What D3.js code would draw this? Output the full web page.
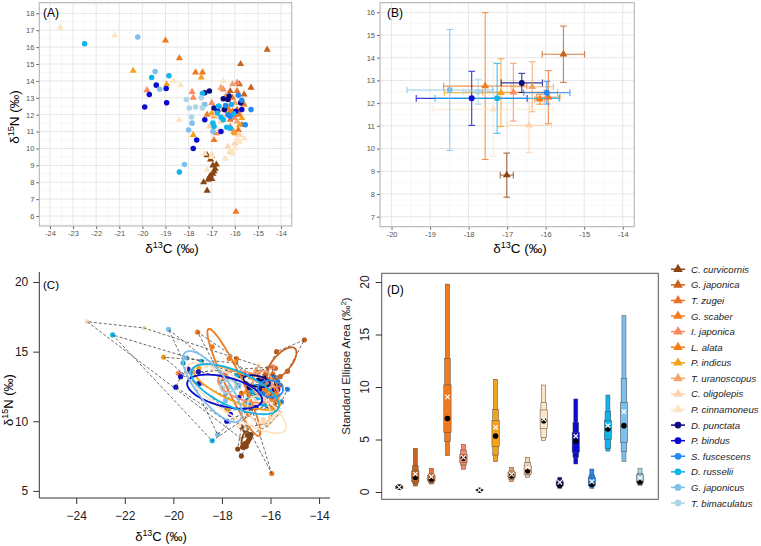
<!DOCTYPE html>
<html>
<head>
<meta charset="utf-8">
<script src="https://cdn.jsdelivr.net/npm/d3@7"></script>
<style>
  body { margin: 0; background: #fff; }
  svg { display: block; font-family: "Liberation Sans", Arial, sans-serif; }
</style>
</head>
<body>
<svg id="fig" width="761" height="546"></svg>
<script>
// species in legend order (first 10 drawn as triangles, rest as circles)
const species = ["C. curvicornis", "G. japonica", "T. zugei", "G. scaber", "I. japonica",
                 "L. alata", "P. indicus", "T. uranoscopus", "C. oligolepis", "P. cinnamoneus",
                 "D. punctata", "P. bindus", "S. fuscescens", "D. russelii", "G. japonicus",
                 "T. bimaculatus"];
const speciesColors = ["#8b4513", "#c8621c", "#e8732a", "#f07a20", "#fa8860",
                       "#f57f17", "#f5a21d", "#f2a468", "#fcd3ae", "#fde5c4",
                       "#0a0a80", "#0a0ad0", "#2389f5", "#0fb4ee", "#7fbfec", "#a9d6e8"];

// raw isotope values per species: [d13C, d15N]
const cCurvicornis = [[-17.2,9.6],[-17.0,9.55],[-17.05,9.35],[-16.95,9.0],[-16.8,9.05],[-16.9,8.65],[-17.05,8.4],
                      [-17.15,8.15],[-17.0,8.2],[-17.35,8.0],[-17.2,7.5],[-16.85,8.8],[-17.1,8.3],[-16.95,8.5]];
const gJaponica = [[-14.6,15.85],[-15.75,15.0],[-15.8,13.8],[-16.2,13.4],[-15.6,13.2],[-15.3,13.6]];
const tZugei = [[-15.9,13.4],[-16.1,13.0],[-15.6,12.6],[-15.8,12.0],[-16.2,11.7],[-15.7,11.4],[-16.3,12.9],[-15.85,11.1],[-15.9,12.3]];
const gScaber = [[-19.0,16.4],[-18.4,15.35],[-17.7,14.5],[-17.4,14.5],[-17.2,12.0],[-16.9,10.5],[-15.95,6.25]];
const iJaponica = [[-19.8,13.45],[-17.85,13.35],[-17.8,13.0],[-17.0,12.7],[-16.8,10.9],[-16.5,13.5],[-16.3,12.2],
                   [-16.2,11.3],[-16.0,11.8],[-15.9,13.9],[-16.05,11.0]];
const lAlata = [[-16.3,12.4],[-16.0,12.0],[-16.2,12.1],[-16.1,12.2]];
const pIndicus = [[-20.4,14.6],[-18.95,13.8],[-17.45,14.2],[-17.8,10.8],[-17.0,12.1],[-15.8,11.4],[-15.7,11.8],[-16.0,10.9]];
const tUranoscopus = [[-16.6,13.6],[-16.1,13.8],[-16.5,12.3],[-16.0,12.7],[-16.9,11.9],[-15.9,11.6],[-16.4,13.1]];
const cOligolepis = [[-17.0,9.6],[-16.6,11.6],[-16.3,10.1],[-16.0,10.3],[-16.8,12.0],[-15.8,10.8],[-16.5,11.9],[-17.1,11.3],[-16.2,9.8]];
const pCinnamoneus = [[-23.55,17.15],[-21.2,16.7],[-18.65,14.0],[-18.35,13.75],[-18.4,11.7],[-17.4,12.6],[-17.3,9.7],
                      [-17.0,9.5],[-16.5,14.0],[-16.4,9.4],[-17.2,8.75],[-16.2,9.9],[-16.0,10.0],[-16.6,12.4],
                      [-16.7,11.1],[-15.9,10.5],[-15.8,10.4],[-15.6,10.6],[-16.1,9.7]];
const dPunctata = [[-17.3,13.3],[-17.1,13.4],[-16.5,12.95],[-16.25,13.1],[-16.3,12.9],[-16.45,12.3],[-15.75,12.7],[-16.9,12.4]];
const pBindus = [[-19.9,12.45],[-19.7,13.2],[-19.4,13.75],[-18.97,13.55],[-18.95,12.7],[-17.8,10.0],[-17.65,10.5],
                 [-17.3,11.7],[-16.75,12.2],[-16.6,11.0],[-15.95,12.2],[-15.7,12.3]];
const sFuscescens = [[-15.3,12.3],[-15.7,12.85],[-15.85,13.15],[-16.4,12.55],[-16.3,12.0],[-16.2,11.9],[-15.55,11.4],[-16.7,12.5]];
const dRusselii = [[-22.5,16.2],[-19.6,14.2],[-18.85,14.3],[-18.4,8.6],[-17.4,13.25],[-16.75,12.1],[-16.7,12.5],[-16.5,11.7],
                   [-16.35,11.25],[-16.2,11.2],[-16.15,12.6],[-16.9,11.3],[-16.95,11.5],[-16.05,12.05],[-16.6,11.85]];
const gJaponicus = [[-20.2,16.6],[-19.45,14.55],[-19.25,13.5],[-18.18,9.05],[-18.0,11.1],[-17.85,11.5],[-17.3,12.6],[-16.95,11.0]];
const tBimaculatus = [[-17.97,12.4],[-17.87,11.86],[-17.4,12.4],[-17.45,13.0],[-18.1,12.9],[-17.7,12.45]];

const isotopeData = [cCurvicornis, gJaponica, tZugei, gScaber, iJaponica, lAlata, pIndicus, tUranoscopus,
                     cOligolepis, pCinnamoneus, dPunctata, pBindus, sFuscescens, dRusselii, gJaponicus, tBimaculatus];

// panel B: mean +- sd per species
const meanC = [-17.01,-15.54,-15.93,-17.57,-16.84,-16.15,-17.16,-16.35,-16.43,-17.36,-16.62,-17.92,-15.97,-17.26,-18.49,-17.75];
const meanN = [8.83,14.15,12.26,12.75,12.48,12.17,12.46,12.72,11.02,11.73,12.89,12.21,12.46,12.21,12.58,12.5];
const sdC = [0.17,0.55,0.3,1.08,0.8,0.13,1.47,0.55,0.58,1.56,0.535,1.44,0.6,1.61,1.11,0.4];
const sdN = [0.97,1.24,1.17,3.23,1.27,0.22,1.49,1.1,1.2,2.07,0.42,1.19,0.5,1.54,2.66,0.55];

// panel D: posterior SEA summaries
const sea95Lo = [0.25,0.57,0.76,3.46,2.16,0.08,2.89,0.98,1.4,4.89,0.35,2.67,0.35,3.9,2.89,0.6];
const sea75Lo = [0.3,0.83,0.92,4.8,2.57,0.1,3.52,1.21,1.62,5.21,0.51,3.3,0.51,4.16,3.84,0.73];
const sea50Lo = [0.35,0.98,1.05,5.68,2.83,0.12,4.32,1.37,1.71,6.06,0.6,3.78,0.6,5.02,4.73,0.89];
const sea50Hi = [0.55,2.0,1.56,10.2,3.59,0.22,6.79,1.84,2.5,7.81,0.98,5.65,1.4,6.79,8.54,1.62];
const sea75Hi = [0.6,2.5,1.71,12.7,4.0,0.25,7.87,2.0,2.79,8.5,1.14,6.6,1.62,7.65,10.83,1.78];
const sea95Hi = [0.7,4.16,2.25,19.8,4.54,0.3,10.73,2.35,3.3,10.19,1.4,8.86,2.19,9.24,16.8,2.25];
const seaMode = [0.45,1.4,1.24,7.0,3.21,0.17,5.33,1.52,2.03,6.79,0.67,4.86,0.73,6.0,6.32,0.98];
const seaMean = [0.45,1.71,1.46,9.05,3.3,0.19,6.16,1.68,2.35,6.95,0.92,5.33,0.98,6.32,7.65,1.3];

const xTicksAB = d3.range(-24, -13, 1);
const yTicksA = d3.range(6, 19, 1);
const yTicksB = d3.range(7, 17, 1);

const svg = d3.select('#fig');

function marker(i, size) {
    return d3.symbol(i < 10 ? d3.symbolTriangle : d3.symbolCircle, size)();
}

function isoTitle(t, mass, el) {
    t.append('tspan').text('δ');
    t.append('tspan').attr('dy', -5).attr('font-size', '0.68em').text(mass);
    t.append('tspan').attr('dy', 5).text(el + ' (‰)');
}

// ggplot-like panel: grid, border, ticks
function ggPanel(g, x, y, xMajor, yMajor) {
    const [xl, xr] = x.range(), [yb, yt] = y.range();
    const inX = v => v > Math.min(...x.domain()) && v < Math.max(...x.domain());
    const inY = v => v > Math.min(...y.domain()) && v < Math.max(...y.domain());
    const xs = xMajor.filter(inX), ys = yMajor.filter(inY);
    const xMinor = xMajor.map(v => v - 0.5).concat([d3.max(xMajor) + 0.5]).filter(inX);
    const yMinor = yMajor.map(v => v - 0.5).concat([d3.max(yMajor) + 0.5]).filter(inY);

    g.selectAll('.vmin').data(xMinor).join('line')
        .attr('x1', x).attr('x2', x).attr('y1', yb).attr('y2', yt)
        .attr('stroke', '#f3f3f3').attr('stroke-width', 0.6);
    g.selectAll('.hmin').data(yMinor).join('line')
        .attr('y1', y).attr('y2', y).attr('x1', xl).attr('x2', xr)
        .attr('stroke', '#f3f3f3').attr('stroke-width', 0.6);
    g.selectAll('.vmaj').data(xs).join('line')
        .attr('x1', x).attr('x2', x).attr('y1', yb).attr('y2', yt)
        .attr('stroke', '#e6e6e6').attr('stroke-width', 1);
    g.selectAll('.hmaj').data(ys).join('line')
        .attr('y1', y).attr('y2', y).attr('x1', xl).attr('x2', xr)
        .attr('stroke', '#e6e6e6').attr('stroke-width', 1);

    let xa = g.append('g').attr('transform', `translate(0,${yb})`)
        .call(d3.axisBottom(x).tickValues(xs).tickSize(3).tickPadding(2).tickFormat(d3.format('d')));
    let ya = g.append('g').attr('transform', `translate(${xl},0)`)
        .call(d3.axisLeft(y).tickValues(ys).tickSize(3).tickPadding(2).tickFormat(d3.format('d')));
    [xa, ya].forEach(a => {
        a.select('.domain').remove();
        a.selectAll('line').attr('stroke', '#666');
        a.selectAll('text').attr('font-size', 7.5).attr('fill', '#555')
            .attr('font-family', '"Liberation Sans", Arial, sans-serif')
            .text(function() { return this.textContent.replace('−', '-'); });
    });
    g.append('rect').attr('x', xl).attr('y', yt).attr('width', xr - xl).attr('height', yb - yt)
        .attr('fill', 'none').attr('stroke', '#b5b5b5').attr('stroke-width', 1.1);
}

// ---------- panel A ----------
const xA = d3.scaleLinear().domain([-24.46, -13.54]).range([39.3, 291.7]);
const yA = d3.scaleLinear().domain([5.41, 18.63]).range([226, 2.7]);
const gA = svg.append('g');
ggPanel(gA, xA, yA, xTicksAB, yTicksA);

isotopeData.forEach((pts, i) => {
    gA.append('g').selectAll('path').data(pts).join('path')
        .attr('d', marker(i, i < 10 ? 22 : 24))
        .attr('transform', d => `translate(${xA(d[0])},${yA(d[1])})`)
        .attr('fill', speciesColors[i]);
});
gA.append('text').attr('x', 43).attr('y', 17).attr('font-size', 12).text('(A)');
isoTitle(gA.append('text').attr('x', 172).attr('y', 253).attr('text-anchor', 'middle').attr('font-size', 13.5), '13', 'C');
isoTitle(gA.append('text').attr('transform', 'translate(19,117) rotate(-90)').attr('text-anchor', 'middle').attr('font-size', 13.5), '15', 'N');

// ---------- panel B ----------
const xB = d3.scaleLinear().domain([-20.3, -13.7]).range([380, 634.3]);
const yB = d3.scaleLinear().domain([6.56, 16.42]).range([226.7, 2.7]);
const gB = svg.append('g');
ggPanel(gB, xB, yB, d3.range(-20, -13, 1), yTicksB);

const cap = 3.3;
species.forEach((s, i) => {
    const c = speciesColors[i];
    const cx = xB(meanC[i]), cy = yB(meanN[i]);
    const bar = gB.append('g').attr('stroke', c).attr('stroke-width', 1.1).attr('opacity', 0.8);
    const xl = xB(meanC[i] - sdC[i]), xr = xB(meanC[i] + sdC[i]);
    const yt = yB(meanN[i] + sdN[i]), yb = yB(meanN[i] - sdN[i]);
    bar.append('line').attr('x1', xl).attr('x2', xr).attr('y1', cy).attr('y2', cy);
    bar.append('line').attr('x1', xl).attr('x2', xl).attr('y1', cy - cap).attr('y2', cy + cap);
    bar.append('line').attr('x1', xr).attr('x2', xr).attr('y1', cy - cap).attr('y2', cy + cap);
    bar.append('line').attr('x1', cx).attr('x2', cx).attr('y1', yt).attr('y2', yb);
    bar.append('line').attr('x1', cx - cap).attr('x2', cx + cap).attr('y1', yt).attr('y2', yt);
    bar.append('line').attr('x1', cx - cap).attr('x2', cx + cap).attr('y1', yb).attr('y2', yb);
});
species.forEach((s, i) => {
    gB.append('path').attr('d', marker(i, i < 10 ? 26 : 28))
        .attr('transform', `translate(${xB(meanC[i])},${yB(meanN[i])})`)
        .attr('fill', speciesColors[i]);
});
gB.append('text').attr('x', 387).attr('y', 17).attr('font-size', 12).text('(B)');
isoTitle(gB.append('text').attr('x', 520).attr('y', 253).attr('text-anchor', 'middle').attr('font-size', 13.5), '13', 'C');

// ---------- panel C ----------
const xC = d3.scaleLinear().domain([-25.52, -13.55]).range([39.3, 330]);
const yC = d3.scaleLinear().domain([4.49, 20.72]).range([498, 272]);
const gC = svg.append('g');

gC.append('path').attr('d', `M39.3,272V498H330`).attr('fill', 'none').attr('stroke', '#333').attr('stroke-width', 1);
const cxAxis = gC.append('g').attr('transform', 'translate(0,498)')
    .call(d3.axisBottom(xC).tickValues([-24, -22, -20, -18, -16, -14]).tickSize(6).tickPadding(7)
        .tickFormat(d => d < 0 ? '\u2212' + Math.abs(d) : d));
const cyAxis = gC.append('g').attr('transform', 'translate(39.3,0)')
    .call(d3.axisLeft(yC).tickValues([5, 10, 15, 20]).tickSize(6).tickPadding(5));
[cxAxis, cyAxis].forEach(a => {
    a.select('.domain').remove();
    a.selectAll('line').attr('stroke', '#333');
    a.selectAll('text').attr('font-size', 12).attr('fill', '#222')
        .attr('font-family', '"Liberation Sans", Arial, sans-serif');
});

// points
isotopeData.forEach((pts, i) => {
    gC.append('g').selectAll('circle').data(pts).join('circle')
        .attr('cx', d => xC(d[0])).attr('cy', d => yC(d[1])).attr('r', 2.6)
        .attr('fill', speciesColors[i]);
});
// convex hulls
isotopeData.forEach(pts => {
    const hull = d3.polygonHull(pts.map(d => [xC(d[0]), yC(d[1])]));
    if (!hull) return;
    gC.append('path').attr('d', 'M' + hull.join('L') + 'Z')
        .attr('fill', 'none').attr('stroke', '#444').attr('stroke-width', 0.8)
        .attr('stroke-dasharray', '3,2');
});
// small-sample corrected standard ellipses
function stdEllipse(pts) {
    const n = pts.length;
    const mx = d3.mean(pts, d => d[0]), my = d3.mean(pts, d => d[1]);
    let sxx = 0, syy = 0, sxy = 0;
    pts.forEach(([a, b]) => { sxx += (a - mx) ** 2; syy += (b - my) ** 2; sxy += (a - mx) * (b - my); });
    sxx /= n - 1; syy /= n - 1; sxy /= n - 1;
    const tr = (sxx + syy) / 2, dd = Math.sqrt(((sxx - syy) / 2) ** 2 + sxy ** 2);
    const l1 = tr + dd, l2 = Math.max(tr - dd, 0);
    const th = 0.5 * Math.atan2(2 * sxy, sxx - syy);
    const k = Math.sqrt((n - 1) / (n - 2));
    return d3.range(0, 101).map(j => {
        const t = j / 100 * 2 * Math.PI;
        const u = Math.sqrt(l1) * k * Math.cos(t), v = Math.sqrt(l2) * k * Math.sin(t);
        return [mx + u * Math.cos(th) - v * Math.sin(th), my + u * Math.sin(th) + v * Math.cos(th)];
    });
}
const ellLine = d3.line().x(d => xC(d[0])).y(d => yC(d[1]));
isotopeData.forEach((pts, i) => {
    gC.append('path').attr('d', ellLine(stdEllipse(pts)))
        .attr('fill', 'none').attr('stroke', speciesColors[i]).attr('stroke-width', 1.8);
});
gC.append('text').attr('x', 43).attr('y', 289).attr('font-size', 11.5).text('(C)');
isoTitle(gC.append('text').attr('x', 161).attr('y', 541).attr('text-anchor', 'middle').attr('font-size', 13), '13', 'C');
isoTitle(gC.append('text').attr('transform', 'translate(13,400) rotate(-90)').attr('text-anchor', 'middle').attr('font-size', 13), '15', 'N');

// ---------- panel D ----------
const xD = d3.scalePoint().domain(species).range([399.3, 640]);
const yD = d3.scaleLinear().domain([0, 20]).range([492, 282]);
const gD = svg.append('g');
gD.append('rect').attr('x', 381.7).attr('y', 273.3).attr('width', 276.6).attr('height', 226)
    .attr('fill', 'none').attr('stroke', '#555').attr('stroke-width', 1);
const dAxis = gD.append('g').attr('transform', 'translate(381.7,0)')
    .call(d3.axisLeft(yD).tickValues([0, 5, 10, 15, 20]).tickSize(6).tickFormat(() => ''));
dAxis.select('.domain').remove();
dAxis.selectAll('line').attr('stroke', '#333');
gD.selectAll('.dlab').data([0, 5, 10, 15, 20]).join('text')
    .attr('transform', d => `translate(369,${yD(d)}) rotate(-90)`)
    .attr('text-anchor', 'middle').attr('font-size', 12).attr('fill', '#222').text(d => d);
gD.append('text').attr('transform', 'translate(350,366) rotate(-90)').attr('text-anchor', 'middle')
    .attr('font-size', 11.5).attr('fill', '#222')
    .call(t => {
        t.append('tspan').text('Standard Ellipse Area (‰');
        t.append('tspan').attr('dy', -4).attr('font-size', '0.7em').text('2');
        t.append('tspan').attr('dy', 4).text(')');
    });

const bands = [[sea95Lo, sea95Hi, 4], [sea75Lo, sea75Hi, 5.7], [sea50Lo, sea50Hi, 7.3]];
species.forEach((s, i) => {
    const cx = xD(s);
    bands.forEach(([lo, hi, w]) => {
        gD.append('rect').attr('x', cx - w / 2).attr('width', w)
            .attr('y', yD(hi[i])).attr('height', Math.max(yD(lo[i]) - yD(hi[i]), 0.5))
            .attr('fill', speciesColors[i]).attr('stroke', '#4a4a4a').attr('stroke-width', 0.5);
    });
    gD.append('circle').attr('cx', cx).attr('cy', yD(seaMode[i])).attr('r', 2.8).attr('fill', '#000');
    const my = yD(seaMean[i]), h = 2.2;
    gD.append('path').attr('d', `M${cx - h},${my - h}L${cx + h},${my + h}M${cx - h},${my + h}L${cx + h},${my - h}`)
        .attr('stroke', '#fff').attr('stroke-width', 1.2);
});
gD.append('text').attr('x', 387).attr('y', 294).attr('font-size', 12).text('(D)');

// ---------- legend ----------
const yLeg = d3.scalePoint().domain(species).range([269.3, 503]);
const gL = svg.append('g');
species.forEach((s, i) => {
    const y = yLeg(s);
    gL.append('line').attr('x1', 671).attr('x2', 685).attr('y1', y).attr('y2', y)
        .attr('stroke', speciesColors[i]).attr('stroke-width', 1.5);
    gL.append('path').attr('d', marker(i, i < 10 ? 40 : 36))
        .attr('transform', `translate(678,${y})`).attr('fill', speciesColors[i]);
    gL.append('text').attr('x', 691).attr('y', y + 3.5).attr('font-size', 9.6)
        .attr('font-style', 'italic').attr('fill', '#222').text(s);
});
</script>
</body>
</html>
